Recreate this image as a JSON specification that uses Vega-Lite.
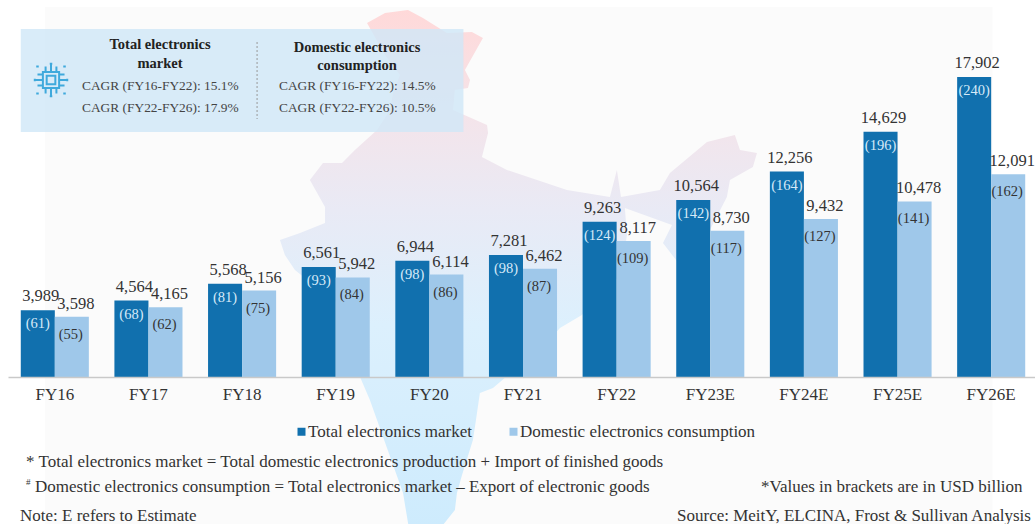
{
"$schema":"https://vega.github.io/schema/vega-lite/v6.json",
"autosize":"none",
"padding":{"left":8,"top":0,"right":0,"bottom":147},
"width":1027,"height":377,
"background":"white",
"config":{"view":{"stroke":null},"text":{"font":"Liberation Serif"},
 "axisX":{"labelAngle":0,"labelFont":"Liberation Serif","labelFontSize":17,"labelColor":"#333333","labelPadding":9,"ticks":false,"domainColor":"#C9C9C9","domainWidth":1.3,"grid":false,"title":null}},
"datasets":{
"bars":[
{"fy":"FY16","series":"Total electronics market","value":3989,"usd":"(61)"},
{"fy":"FY16","series":"Domestic electronics consumption","value":3598,"usd":"(55)"},
{"fy":"FY17","series":"Total electronics market","value":4564,"usd":"(68)"},
{"fy":"FY17","series":"Domestic electronics consumption","value":4165,"usd":"(62)"},
{"fy":"FY18","series":"Total electronics market","value":5568,"usd":"(81)"},
{"fy":"FY18","series":"Domestic electronics consumption","value":5156,"usd":"(75)"},
{"fy":"FY19","series":"Total electronics market","value":6561,"usd":"(93)"},
{"fy":"FY19","series":"Domestic electronics consumption","value":5942,"usd":"(84)"},
{"fy":"FY20","series":"Total electronics market","value":6944,"usd":"(98)"},
{"fy":"FY20","series":"Domestic electronics consumption","value":6114,"usd":"(86)"},
{"fy":"FY21","series":"Total electronics market","value":7281,"usd":"(98)"},
{"fy":"FY21","series":"Domestic electronics consumption","value":6462,"usd":"(87)"},
{"fy":"FY22","series":"Total electronics market","value":9263,"usd":"(124)"},
{"fy":"FY22","series":"Domestic electronics consumption","value":8117,"usd":"(109)"},
{"fy":"FY23E","series":"Total electronics market","value":10564,"usd":"(142)"},
{"fy":"FY23E","series":"Domestic electronics consumption","value":8730,"usd":"(117)"},
{"fy":"FY24E","series":"Total electronics market","value":12256,"usd":"(164)"},
{"fy":"FY24E","series":"Domestic electronics consumption","value":9432,"usd":"(127)"},
{"fy":"FY25E","series":"Total electronics market","value":14629,"usd":"(196)"},
{"fy":"FY25E","series":"Domestic electronics consumption","value":10478,"usd":"(141)"},
{"fy":"FY26E","series":"Total electronics market","value":17902,"usd":"(240)"},
{"fy":"FY26E","series":"Domestic electronics consumption","value":12091,"usd":"(162)"}
],
"india":[{"type":"Feature","properties":{"name":"India"},"geometry":{"type":"Polygon","coordinates":[[[73.12,36.34],[74.18,36.92],[75.53,37.1],[76.41,36.63],[77.82,35.75],[79.29,35.81],[79.94,35.45],[78.88,33.57],[79.18,32.98],[79.06,32.51],[78.29,32.39],[78.18,31.22],[80.18,30.34],[80.24,29.86],[79.88,28.45],[81.35,27.69],[84.88,26.51],[87.41,26.1],[87.82,27.69],[88.06,26.1],[90.35,26.51],[90.94,27.51],[93.12,29.34],[94.76,29.75],[95.06,28.86],[96.06,28.69],[95.82,27.86],[94.47,27.1],[94.29,26.1],[93.29,24.16],[92.12,23.57],[91.53,22.1],[90.53,23.39],[91.06,24.45],[88.29,25.45],[88.41,23.86],[88.12,21.81],[87.41,20.63],[85.76,19.16],[84.47,18.39],[83.59,17.39],[82.12,16.22],[80.53,14.86],[79.76,14.57],[79.53,12.98],[79.35,11.81],[78.71,9.75],[78.41,8.69],[78.29,7.69],[77.12,6.22],[75.65,6.22],[75.24,8.69],[74.06,12.0],[73.29,14.16],[72.71,15.51],[71.82,17.69],[71.24,20.04],[70.35,20.63],[68.88,21.81],[68.29,22.69],[68.0,23.57],[69.18,23.98],[70.65,24.57],[70.65,25.51],[69.76,27.1],[70.53,28.1],[71.65,28.1],[72.41,28.86],[73.71,30.04],[74.47,31.22],[74.65,32.22],[75.06,33.28],[74.18,34.45],[73.12,36.34]]]}}]
},
"layer":[
{"data":{"values":[{"box":"page"}]},
 "mark":{"type":"rect","fill":"#FBFBFB"},
 "encoding":{
  "x":{"datum":"FY16","bandPosition":0.356,"scale":{"domain":["FY16","FY17","FY18","FY19","FY20","FY21","FY22","FY23E","FY24E","FY25E","FY26E"],"range":[0,1030],"paddingInner":0.273,"paddingOuter":0.1365}},
  "x2":{"datum":"FY26E","bandPosition":0.518},
  "y":{"datum":22078,"axis":null,"scale":{"domain":[0,22496],"nice":false}},
  "y2":{"datum":-8771}}},
{"data":{"name":"india"},
 "projection":{"type":"equirectangular","scale":974,"translate":[-884,640.7]},
 "mark":{"type":"geoshape","clip":false,"stroke":null,"fill":{"gradient":"linear","x1":0,"y1":0,"x2":0,"y2":1,"stops":[{"offset":0,"color":"#FFD9D9"},{"offset":0.2,"color":"#F4E4EA"},{"offset":0.38,"color":"#E9EAF5"},{"offset":0.6,"color":"#DCF0FD"},{"offset":1,"color":"#CDEBFD"}]}}},
{"data":{"values":[{"box":"cagr"}]},
 "mark":{"type":"rect","fill":"#CFE7F8","opacity":0.8},
 "encoding":{
  "x":{"datum":"FY16","bandPosition":0},
  "x2":{"datum":"FY20","bandPosition":1},
  "y":{"datum":20765,"axis":null},
  "y2":{"datum":14619}}},
{"data":{"values":[{"box":"divider"}]},
 "mark":{"type":"rule","stroke":"#999999","strokeDash":[2,2],"strokeWidth":1},
 "encoding":{
  "x":{"datum":"FY18","bandPosition":0.72},
  "y":{"datum":19989,"axis":null},
  "y2":{"datum":15395}}},
{"data":{"values":[{"icon":"chip"}]},
 "mark":{"type":"point","filled":false,"stroke":"#3FA9DC","strokeWidth":2,"opacity":1,
  "shape":"M-0.45,-0.45H0.45V0.45H-0.45Z M-0.24,-0.24H0.24V0.24H-0.24Z M-0.3,-0.45V-0.75 M0,-0.45V-0.9 M0.3,-0.45V-0.75 M-0.3,0.45V0.75 M0,0.45V0.9 M0.3,0.45V0.75 M-0.45,-0.3H-0.75 M-0.45,0H-0.9 M-0.45,0.3H-0.75 M0.45,-0.3H0.75 M0.45,0H0.9 M0.45,0.3H0.75 M-0.82,-0.75H-0.68 M0.68,-0.75H0.82 M-0.82,0.75H-0.68 M0.68,0.75H0.82 M-0.07,-0.9H0.07 M-0.07,0.9H0.07 M-0.9,-0.07V0.07 M0.9,-0.07V0.07"},
 "encoding":{
  "x":{"datum":"FY16","bandPosition":0.444},
  "y":{"datum":17722,"axis":null},
  "size":{"value":1300}}},
{"data":{"name":"bars"},
 "encoding":{
  "x":{"field":"fy","type":"nominal","sort":null,"title":null,
   "scale":{"domain":["FY16","FY17","FY18","FY19","FY20","FY21","FY22","FY23E","FY24E","FY25E","FY26E"],"range":[0,1030],"paddingInner":0.273,"paddingOuter":0.1365}},
  "xOffset":{"field":"series","type":"nominal","sort":["Total electronics market","Domestic electronics consumption"],"scale":{"domain":["Total electronics market","Domestic electronics consumption"],"paddingInner":0,"paddingOuter":0}},
  "y":{"field":"value","type":"quantitative","axis":null,"scale":{"domain":[0,22496],"nice":false}}
 },
 "layer":[
  {"mark":{"type":"bar"},
   "encoding":{"color":{"field":"series","type":"nominal","sort":["Total electronics market","Domestic electronics consumption"],
    "scale":{"domain":["Total electronics market","Domestic electronics consumption"],"range":["#1170AE","#9FC8EA"]},
    "legend":{"title":null,"orient":"none","legendX":285,"legendY":423,"direction":"horizontal","symbolType":"square","symbolSize":64,"symbolStrokeWidth":0,"labelFont":"Liberation Serif","labelFontSize":17,"labelColor":"#333333","labelLimit":0,"labelOffset":-2,"columns":2,"columnPadding":32,"symbolOpacity":1}}}},
  {"transform":[{"filter":"datum.series==='Total electronics market'"}],
   "mark":{"type":"text","fontSize":16.5,"color":"#333333","baseline":"middle","dx":3,"dy":-14},
   "encoding":{"text":{"field":"value","type":"quantitative","format":","}}},
  {"transform":[{"filter":"datum.series!=='Total electronics market'"}],
   "mark":{"type":"text","fontSize":16.5,"color":"#333333","baseline":"middle","dx":4,"dy":-13},
   "encoding":{"text":{"field":"value","type":"quantitative","format":","}}},
  {"transform":[{"filter":"datum.series==='Total electronics market'"}],
   "mark":{"type":"text","fontSize":14.5,"color":"#D6EAF8","baseline":"middle","dy":14},
   "encoding":{"text":{"field":"usd","type":"nominal"}}},
  {"transform":[{"filter":"datum.series!=='Total electronics market'"}],
   "mark":{"type":"text","fontSize":14.5,"color":"#333333","baseline":"middle","dx":-1,"dy":18},
   "encoding":{"text":{"field":"usd","type":"nominal"}}}
 ]},
{"data":{"values":[{"note":"Total electronics"}]},"mark":{"type":"text","fontWeight":"bold","fontSize":14.5,"color":"#222222","align":"center","baseline":"middle","dx":105.2},"encoding":{"x":{"datum":"FY16"},"y":{"datum":19810,"axis":null},"text":{"field":"note"}}},
{"data":{"values":[{"note":"market"}]},"mark":{"type":"text","fontWeight":"bold","fontSize":14.5,"color":"#222222","align":"center","baseline":"middle","dx":105.2},"encoding":{"x":{"datum":"FY16"},"y":{"datum":18677,"axis":null},"text":{"field":"note"}}},
{"data":{"values":[{"note":"Domestic electronics"}]},"mark":{"type":"text","fontWeight":"bold","fontSize":14.5,"color":"#222222","align":"center","baseline":"middle","dx":302.2},"encoding":{"x":{"datum":"FY16"},"y":{"datum":19631,"axis":null},"text":{"field":"note"}}},
{"data":{"values":[{"note":"consumption"}]},"mark":{"type":"text","fontWeight":"bold","fontSize":14.5,"color":"#222222","align":"center","baseline":"middle","dx":302.2},"encoding":{"x":{"datum":"FY16"},"y":{"datum":18557,"axis":null},"text":{"field":"note"}}},
{"data":{"values":[{"note":"CAGR (FY16-FY22): 15.1%"}]},"mark":{"type":"text","fontSize":13.4,"color":"#444444","align":"left","baseline":"middle","dx":27.2},"encoding":{"x":{"datum":"FY16"},"y":{"datum":17364,"axis":null},"text":{"field":"note"}}},
{"data":{"values":[{"note":"CAGR (FY22-FY26): 17.9%"}]},"mark":{"type":"text","fontSize":13.4,"color":"#444444","align":"left","baseline":"middle","dx":27.2},"encoding":{"x":{"datum":"FY16"},"y":{"datum":16051,"axis":null},"text":{"field":"note"}}},
{"data":{"values":[{"note":"CAGR (FY16-FY22): 14.5%"}]},"mark":{"type":"text","fontSize":13.4,"color":"#444444","align":"left","baseline":"middle","dx":224.2},"encoding":{"x":{"datum":"FY16"},"y":{"datum":17364,"axis":null},"text":{"field":"note"}}},
{"data":{"values":[{"note":"CAGR (FY22-FY26): 10.5%"}]},"mark":{"type":"text","fontSize":13.4,"color":"#444444","align":"left","baseline":"middle","dx":224.2},"encoding":{"x":{"datum":"FY16"},"y":{"datum":16051,"axis":null},"text":{"field":"note"}}},
{"data":{"values":[{"note":"* Total electronics market = Total domestic electronics production + Import of finished goods"}]},"mark":{"type":"text","fontSize":17,"color":"#333333","align":"left","baseline":"middle","dx":-28.8},"encoding":{"x":{"datum":"FY16"},"y":{"datum":-5072,"axis":null},"text":{"field":"note"}}},
{"data":{"values":[{"note":"#"}]},"mark":{"type":"text","fontSize":9,"color":"#333333","align":"left","baseline":"middle","dx":-28.8},"encoding":{"x":{"datum":"FY16"},"y":{"datum":-6265,"axis":null},"text":{"field":"note"}}},
{"data":{"values":[{"note":"Domestic electronics consumption = Total electronics market – Export of electronic goods"}]},"mark":{"type":"text","fontSize":17,"color":"#333333","align":"left","baseline":"middle","dx":-19.8},"encoding":{"x":{"datum":"FY16"},"y":{"datum":-6564,"axis":null},"text":{"field":"note"}}},
{"data":{"values":[{"note":"*Values in brackets are in USD billion"}]},"mark":{"type":"text","fontSize":17,"color":"#333333","align":"left","baseline":"middle","dx":706.2},"encoding":{"x":{"datum":"FY16"},"y":{"datum":-6564,"axis":null},"text":{"field":"note"}}},
{"data":{"values":[{"note":"Note: E refers to Estimate"}]},"mark":{"type":"text","fontSize":17,"color":"#333333","align":"left","baseline":"middle","dx":-34.8},"encoding":{"x":{"datum":"FY16"},"y":{"datum":-8294,"axis":null},"text":{"field":"note"}}},
{"data":{"values":[{"note":"Source: MeitY, ELCINA, Frost & Sullivan Analysis"}]},"mark":{"type":"text","fontSize":17,"color":"#333333","align":"left","baseline":"middle","dx":622.2},"encoding":{"x":{"datum":"FY16"},"y":{"datum":-8294,"axis":null},"text":{"field":"note"}}}
]
}
